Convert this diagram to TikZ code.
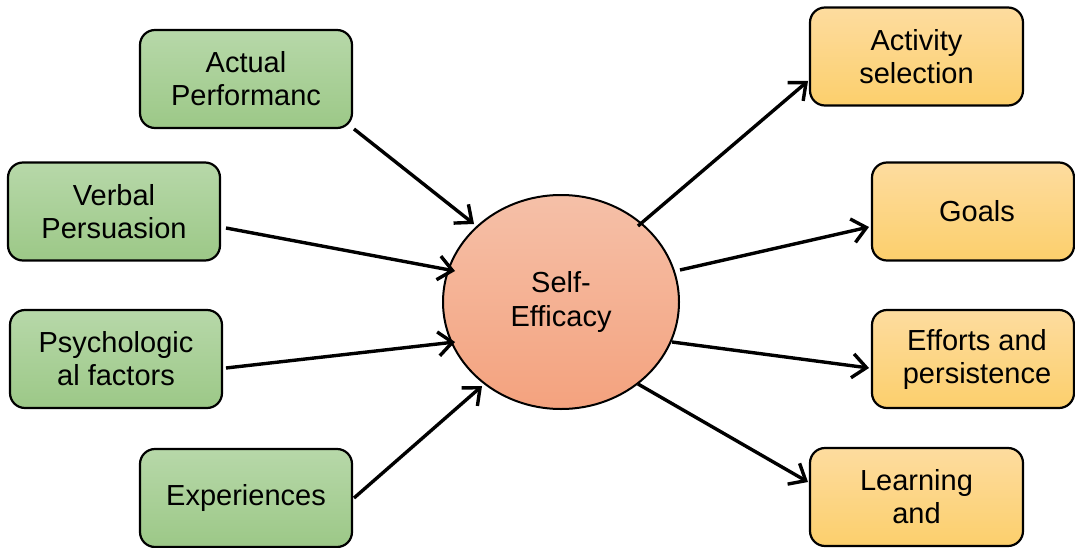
\documentclass[tikz,border=0pt]{standalone}
\usepackage{fontspec}
\setmainfont{Liberation Sans}
\usetikzlibrary{shapes.geometric,arrows.meta}
\definecolor{gtop}{HTML}{B7D8A9}
\definecolor{gbot}{HTML}{9CC887}
\definecolor{otop}{HTML}{FDDC9F}
\definecolor{obot}{HTML}{FCCF6C}
\definecolor{ctop}{HTML}{F5C0A8}
\definecolor{cbot}{HTML}{F4A27E}
\begin{document}
\begin{tikzpicture}[x=1pt,y=-1pt,
  box/.style={draw=black,line width=2.2pt,rounded corners=15pt,align=center,
    font=\fontsize{29}{33}\selectfont,inner sep=0pt},
  cause/.style={box,top color=gtop,bottom color=gbot,minimum width=212pt,minimum height=98pt},
  effect/.style={box,top color=otop,bottom color=obot,minimum height=98pt},
  hub/.style={draw=black,line width=2pt,ellipse,top color=ctop,bottom color=cbot,
    minimum width=236pt,minimum height=214pt,align=center,font=\fontsize{29}{33}\selectfont},
  link/.style={line width=3.4pt,-{Straight Barb[length=14pt,width=24pt,line width=3.4pt]}}]
\useasboundingbox (0,0) rectangle (1075,548);
% sources
\node[cause] (act) at (246,79) {Actual\\Performanc};
\node[cause] (verb) at (114,211.5) {Verbal\\Persuasion};
\node[cause] (psy) at (116,359) {Psychologic\\al factors};
\node[cause] (exp) at (246,498) {Experiences};
% centre
\node[hub] (se) at (561,302) {Self-\\Efficacy};
% outcomes
\node[effect,minimum width=213pt] (sel) at (916.5,56.5) {Activity\\selection};
\node[effect,minimum width=202pt] (goal) at (973,211.5) {\hspace*{8pt}Goals};
\node[effect,minimum width=202pt] (eff) at (973,359) {\hspace*{8pt}Efforts and\\\hspace*{8pt}persistence};
\node[effect,minimum width=213pt] (lrn) at (916.5,497) {Learning\\and};
% connectors
\coordinate (a1) at (354,129);   \coordinate (a2) at (474,224);
\coordinate (v1) at (226,228);   \coordinate (v2) at (455,271);
\coordinate (p1) at (226,368);   \coordinate (p2) at (455,342);
\coordinate (e1) at (354,498);   \coordinate (e2) at (482,386);
\coordinate (s1) at (638,226);   \coordinate (s2) at (808,81);
\coordinate (g1) at (680,270);   \coordinate (g2) at (869,227);
\coordinate (f1) at (672,342);   \coordinate (f2) at (869,368);
\coordinate (l1) at (638,384);   \coordinate (l2) at (808,482);
\draw[link] (a1) -- (a2);
\draw[link] (v1) -- (v2);
\draw[link] (p1) -- (p2);
\draw[link] (e1) -- (e2);
\draw[link] (s1) -- (s2);
\draw[link] (g1) -- (g2);
\draw[link] (f1) -- (f2);
\draw[link] (l1) -- (l2);
\end{tikzpicture}
\end{document}
